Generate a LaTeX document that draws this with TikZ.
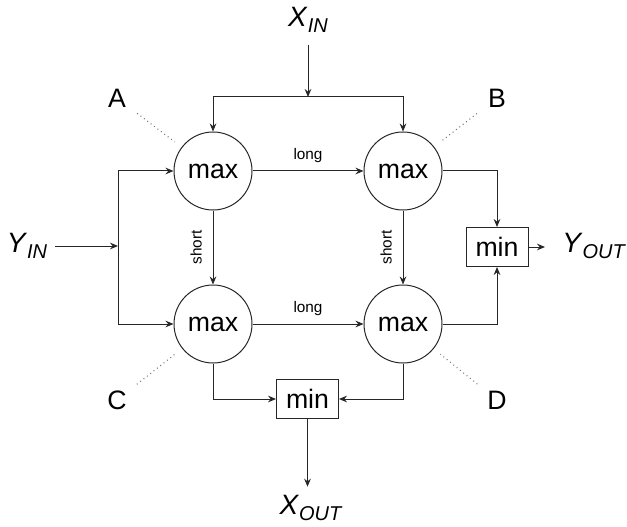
\documentclass[tikz,border=0pt]{standalone}
\usepackage{fontspec}
\setmainfont{Liberation Sans}
\usetikzlibrary{arrows.meta}

% italic variable with a lowered italic subscript
\newcommand\varsub[2]{\textit{#1}\raisebox{-4pt}{\fontsize{15}{18}\selectfont\textit{#2}}}

\tikzset{
  wire/.style={line width=0.75pt, draw=black!85},
  arr/.style={wire, -{Stealth[length=6pt,width=5pt,inset=2pt]}},
  maxnode/.style={circle, draw=black!85, line width=0.75pt, minimum size=58.5pt,
    inner sep=0pt, font=\fontsize{20}{24}\selectfont},
  minnode/.style={rectangle, draw=black!85, line width=0.75pt, minimum width=46.5pt,
    minimum height=29.25pt, inner sep=0pt, font=\fontsize{20}{24}\selectfont},
  corner/.style={font=\fontsize{20}{24}\selectfont, inner sep=0pt},
  io/.style={font=\fontsize{21}{25}\selectfont, inner sep=0pt},
  edgelbl/.style={font=\fontsize{11.5}{13}\selectfont, inner sep=0pt},
  dotline/.style={line width=0.8pt, draw=black!55, dash pattern=on 0.7pt off 2.5pt}
}

\begin{document}
\begin{tikzpicture}[x=0.75pt,y=-0.75pt]
\useasboundingbox (0,0) rectangle (627,527);

% comparators
\node[maxnode] (m1) at (213,171) {max};
\node[maxnode] (m2) at (403,171) {max};
\node[maxnode] (m3) at (213,324) {max};
\node[maxnode] (m4) at (403,324) {max};
\node[minnode] (ymin) at (497,247) {min};
\node[minnode] (xmin) at (307.5,399) {min};

% corner labels
\node[corner] (A) at (117,98) {A};
\node[corner] (B) at (497,98) {B};
\node[corner] (C) at (117,400) {C};
\node[corner] (D) at (497,400) {D};

% inputs and outputs
\node[io] (xin) at (308,20) {\varsub{X}{IN}};
\node[io] (yin) at (27,246) {\varsub{Y}{IN}};
\node[io, anchor=west] (yout) at (562,246) {\varsub{Y}{OUT}};
\node[io] (xout) at (311,508) {\varsub{X}{OUT}};

\coordinate (xsplit) at (308,97);
\coordinate (ysplit) at (118,246);

% X input fan-out
\draw[arr, shorten <=9pt] (xin) -- (xsplit);
\draw[arr] (xsplit) -| (m1.north);
\draw[arr] (xsplit) -| (m2.north);

% Y input fan-out
\draw[arr, shorten <=6pt] (yin) -- (ysplit);
\draw[arr] (ysplit) |- (m1.west);
\draw[arr] (ysplit) |- (m3.west);

% long and short paths
\draw[arr] (m1) -- node[edgelbl, above=6pt] {long} (m2);
\draw[arr] (m3) -- node[edgelbl, above=6pt] {long} (m4);
\draw[arr] (m1) -- node[edgelbl, rotate=90, anchor=south, yshift=8pt] {short} (m3);
\draw[arr] (m2) -- node[edgelbl, rotate=90, anchor=south, yshift=8pt] {short} (m4);

% Y output
\draw[arr] (m2.east) -| (ymin.north);
\draw[arr] (m4.east) -| (ymin.south);
\draw[arr, shorten >=12.75pt] (ymin.east) -- (ymin.east -| yout.west);

% X output
\draw[arr] (m3.south) |- (xmin.west);
\draw[arr] (m4.south) |- (xmin.east);
\draw[arr, shorten >=16pt] (xmin.south) -- (xmin.south |- xout.center);

% dotted corner leaders
\draw[dotline, shorten <=19pt, shorten >=36pt] (A.center) -- (m1.center);
\draw[dotline, shorten <=19pt, shorten >=36pt] (B.center) -- (m2.center);
\draw[dotline, shorten <=19pt, shorten >=36pt] (C.center) -- (m3.center);
\draw[dotline, shorten <=19pt, shorten >=36pt] (D.center) -- (m4.center);
\end{tikzpicture}
\end{document}
